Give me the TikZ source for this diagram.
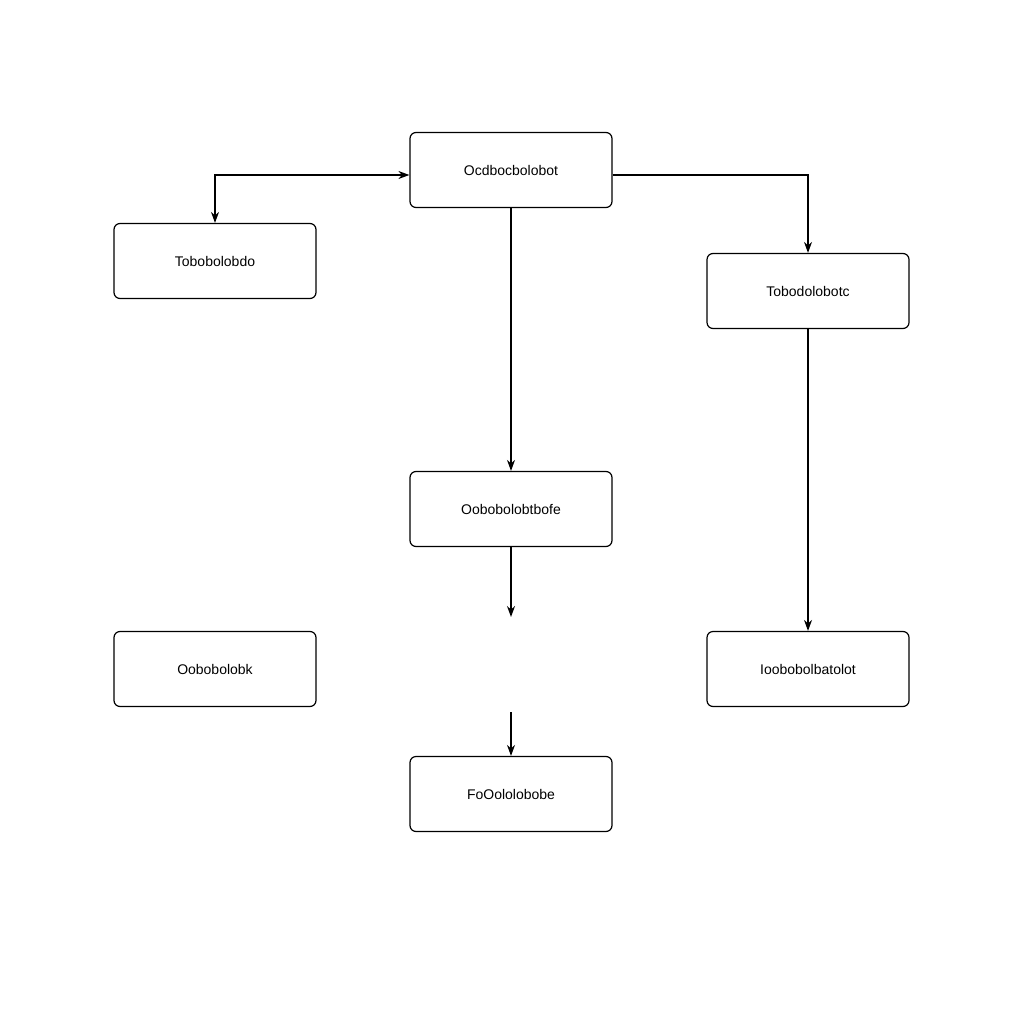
\documentclass[tikz,border=0pt]{standalone}
\usepackage{fontspec}
\setmainfont{Liberation Sans}
\usetikzlibrary{arrows.meta}
\begin{document}
\begin{tikzpicture}[x=1pt,y=-1pt,
  box/.style={draw,rounded corners=6pt,line width=1.2pt,minimum width=202pt,minimum height=75pt,inner sep=0pt,font=\fontsize{14}{16}\selectfont},
  arr/.style={line width=1.4pt,-{Stealth[length=11pt,width=8pt]}}]
\useasboundingbox (0,0) rectangle (1024,1024);
\fill[white] (0,0) rectangle (1024,1024);
\node[box] (top) at (511,170) {Ocdbocbolobot};
\node[box] (left) at (215,261) {Tobobolobdo};
\node[box] (right) at (808,291) {Tobodolobotc};
\node[box] (mid) at (511,509) {Oobobolobtbofe};
\node[box] (bl) at (215,669) {Oobobolobk};
\node[box] (br) at (808,669) {Ioobobolbatolot};
\node[box] (bot) at (511,794) {FoOololobobe};
\coordinate (c1) at (511,617);
\coordinate (c2) at (511,712);
\draw[arr,{Stealth[length=11pt,width=8pt]}-{Stealth[length=11pt,width=8pt]}] ([yshift=-5pt]top.west) -| (left.north);
\draw[arr] ([yshift=-5pt]top.east) -| (right.north);
\draw[arr] (top.south) -- (mid.north);
\draw[arr] (mid.south) -- (c1);
\draw[arr] (c2) -- (bot.north);
\draw[arr] (right.south) -- (br.north);
\end{tikzpicture}
\end{document}
